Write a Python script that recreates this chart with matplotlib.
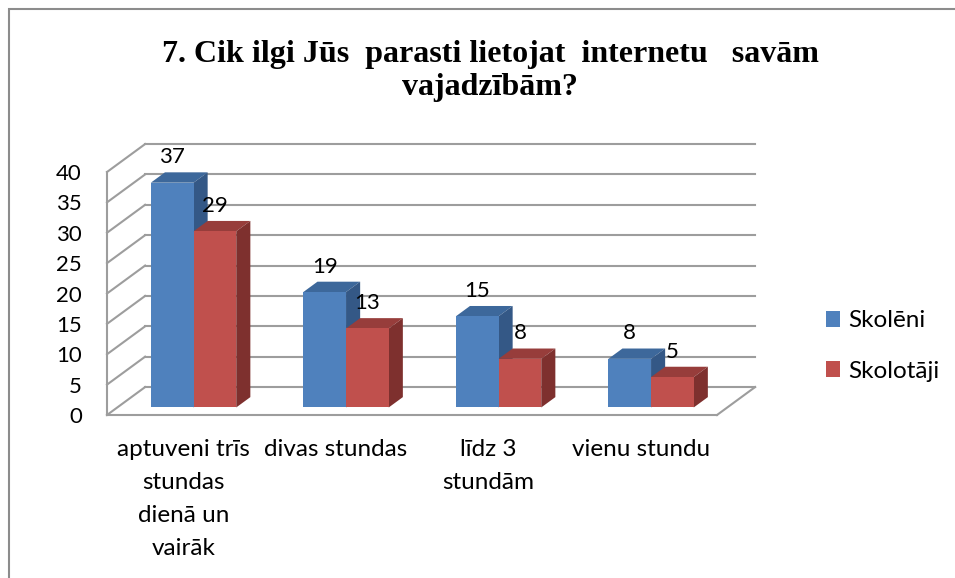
import matplotlib.pyplot as plt
from matplotlib.patches import Polygon, Rectangle

categories = ["aptuveni trīs\nstundas\ndienā un\nvairāk", "divas stundas", "līdz 3\nstundām", "vienu stundu"]
skoleni = [37, 19, 15, 8]
skolotaji = [29, 13, 8, 5]
series_names = ["Skolēni", "Skolotāji"]
yticks = [0, 5, 10, 15, 20, 25, 30, 35, 40]

title = "7. Cik ilgi Jūs  parasti lietojat  internetu   savām\nvajadzībām?"

# fake 3d: depth vector in data units (category units, value units)
DX, DY = 0.25, 4.6
Z0, Z1 = 0.27, 0.64   # bar front / back depth fraction
W = 0.28
grid_c = '#9d9d9d'
faces = {
    "Skolēni": ('#4f81bd', '#3d689b', '#345886'),
    "Skolotāji": ('#c0504d', '#973d3b', '#7e302e'),
}

plt.rcParams['font.family'] = ['Lato', 'DejaVu Sans']

fig = plt.figure(figsize=(9.55, 5.78), dpi=100)
ax = fig.add_axes([107/955, 163/578, 610/955, 243/578])
ax.set_xlim(0, 4)
ax.set_ylim(0, 40)
for s in ax.spines.values():
    s.set_visible(False)

# walls and floor
for y in yticks:
    ax.plot([DX, 4 + DX], [y + DY, y + DY], color=grid_c, lw=1.5, clip_on=False, zorder=1)
    ax.plot([0, DX], [y, y + DY], color=grid_c, lw=1.5, clip_on=False, zorder=1)
ax.plot([0, 0], [0, 40], color=grid_c, lw=1.5, clip_on=False, zorder=1)
ax.plot([0, 4], [0, 0], color=grid_c, lw=1.5, clip_on=False, zorder=1)
ax.plot([4, 4 + DX], [0, DY], color=grid_c, lw=1.5, clip_on=False, zorder=1)

dz = Z1 - Z0
z = 2
for i in range(len(categories)):
    for k, (name, vals) in enumerate(zip(series_names, [skoleni, skolotaji])):
        v = vals[i]
        front, top, side = faces[name]
        x0 = i + 0.22 + k * W + Z0 * DX
        y0 = Z0 * DY
        top_poly = [(x0, y0 + v), (x0 + W, y0 + v), (x0 + W + dz * DX, y0 + v + dz * DY), (x0 + dz * DX, y0 + v + dz * DY)]
        side_poly = [(x0 + W, y0), (x0 + W + dz * DX, y0 + dz * DY), (x0 + W + dz * DX, y0 + v + dz * DY), (x0 + W, y0 + v)]
        ax.add_patch(Polygon(top_poly, closed=True, fc=top, ec='none', clip_on=False, zorder=z))
        ax.add_patch(Polygon(side_poly, closed=True, fc=side, ec='none', clip_on=False, zorder=z))
        ax.bar(x0, v, width=W, bottom=y0, align='edge', color=front, clip_on=False, zorder=z + 0.5,
               label=name if i == 0 else None)
        ax.annotate(str(v), (x0 + W / 2, y0 + v + dz * DY), xytext=(0, 6.5), textcoords='offset points',
                    ha='center', va='baseline', fontsize=16, zorder=20)
        z += 1

ax.set_yticks(yticks)
ax.set_yticklabels([str(t) for t in yticks], fontsize=16)
ax.set_xticks([i + 0.5 for i in range(len(categories))])
ax.set_xticklabels(categories, fontsize=17.5, linespacing=1.72)
ax.tick_params(axis='y', length=0, pad=18)
ax.tick_params(axis='x', length=0, pad=17)

fig.legend(loc='center left', bbox_to_anchor=(804/955, 1 - 346/578), frameon=False, fontsize=17.5,
           handlelength=0.6, handleheight=0.6, handletextpad=0.3, labelspacing=1.2)

fig.text(490/955, 1 - 71/578, title, ha='center', va='center', fontsize=23, fontweight='bold',
         family='Liberation Serif', linespacing=1.15)

fig.add_artist(Rectangle((9/955, -1), 2, 1 + 569/578, transform=fig.transFigure, fill=False,
                         ec='#8c8c8c', lw=1.5))

plt.savefig('out.png', dpi=100)
